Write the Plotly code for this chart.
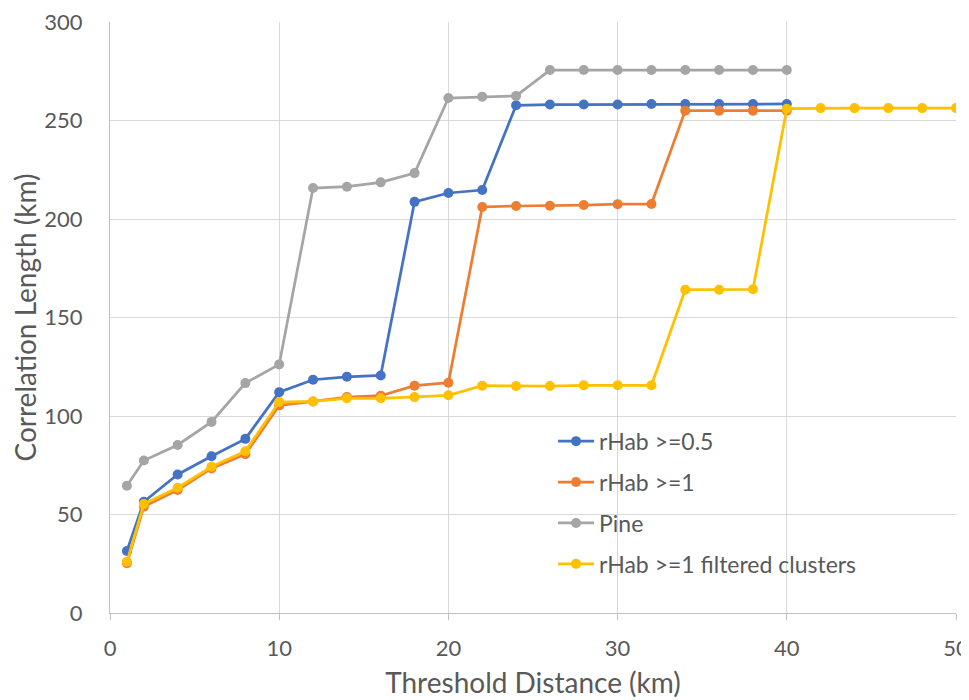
import plotly.graph_objects as go

x_main = [1, 2, 4, 6, 8, 10, 12, 14, 16, 18, 20, 22, 24, 26, 28, 30, 32, 34, 36, 38, 40]
x_filt = x_main + [42, 44, 46, 48, 50]

rhab05 = [31.5, 56.5, 70.3, 79.6, 88.4, 112.1, 118.4, 119.9, 120.6, 208.7, 213.2, 214.7,
          257.7, 258.1, 258.1, 258.1, 258.4, 258.4, 258.4, 258.4, 258.4]
rhab1 = [25.3, 54.0, 62.4, 73.4, 80.6, 105.4, 107.4, 109.6, 110.3, 115.4, 116.9, 206.1,
         206.6, 206.7, 207.1, 207.5, 207.6, 255.0, 255.0, 255.0, 255.0]
pine = [64.6, 77.4, 85.3, 97.0, 116.7, 126.2, 215.7, 216.4, 218.6, 223.3, 261.4, 262.1,
        262.5, 275.6, 275.6, 275.6, 275.6, 275.6, 275.6, 275.6, 275.6]
filtered = [26.0, 55.3, 63.6, 74.2, 82.1, 107.1, 107.4, 109.0, 109.0, 109.6, 110.5, 115.4,
            115.2, 115.2, 115.6, 115.6, 115.6, 164.1, 164.1, 164.3, 256.0,
            256.3, 256.3, 256.3, 256.3, 256.3]

names = ["rHab >=0.5", "rHab >=1", "Pine", "rHab >=1 filtered clusters"]
colors = ["#4472C4", "#ED7D31", "#A5A5A5", "#FFC000"]
series = [(x_main, rhab05), (x_main, rhab1), (x_main, pine), (x_filt, filtered)]

FONT = "Lato, 'Open Sans', sans-serif"
fig = go.Figure()
for (xs, ys), name, col in zip(series, names, colors):
    fig.add_trace(go.Scatter(
        x=xs, y=ys, name=name, mode="lines+markers", legendgroup=name,
        line=dict(color=col, width=2.75),
        marker=dict(color=col, size=10),
    ))

axis_font = dict(family=FONT, size=22, color="#595959")
title_font = dict(family=FONT, size=28, color="#595959")
# page body has an 8px default margin; the figure is sized to fit inside it
fig.update_layout(
    width=961, height=692,
    margin=dict(l=102, r=13, t=14, b=87),
    paper_bgcolor="white", plot_bgcolor="white",
    font=dict(family=FONT, color="#595959"),
    showlegend=True,
    legend=dict(
        x=(552 - 110) / 844, y=(613.3 - 420) / 591, xanchor="left", yanchor="top",
        font=dict(family=FONT, size=23, color="#595959"),
        bgcolor="rgba(0,0,0,0)", tracegroupgap=8, itemwidth=36,
    ),
    xaxis=dict(
        range=[0, 50], dtick=10, tick0=0, automargin=False,
        showgrid=True, gridcolor="#D9D9D9", gridwidth=1,
        showline=True, linecolor="#BFBFBF", linewidth=1,
        ticks="outside", ticklen=6, tickcolor="#BFBFBF", ticklabelstandoff=10,
        ticklabeloverflow="allow",
        tickfont=axis_font, zeroline=False,
        title=dict(text="Threshold Distance (km)", font=title_font, standoff=12),
    ),
    yaxis=dict(
        range=[0, 300], dtick=50, tick0=0, automargin=False,
        showgrid=True, gridcolor="#D9D9D9", gridwidth=1,
        showline=True, linecolor="#BFBFBF", linewidth=1,
        ticks="", tickfont=axis_font, zeroline=False, ticklabelstandoff=22,
        ticklabeloverflow="allow",
        title=dict(text="Correlation Length (km)", font=title_font, standoff=6),
    ),
)
fig.write_html("out.html")
